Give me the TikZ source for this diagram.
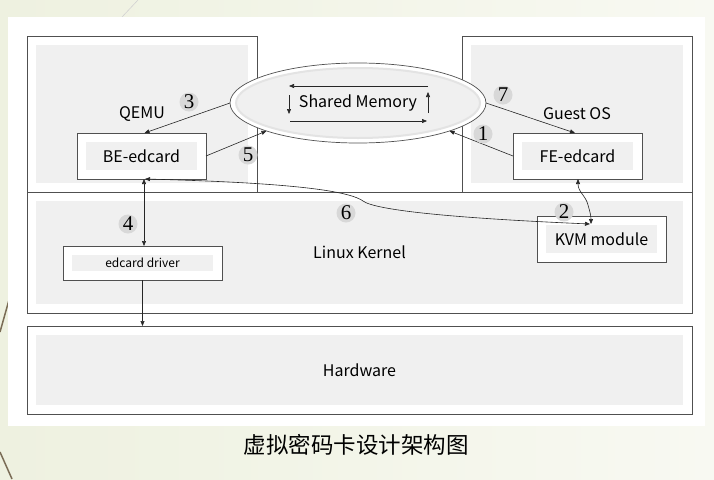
\documentclass[tikz,border=0pt]{standalone}
\usepackage{fontspec}
\setmainfont{Noto Sans CJK SC}
\newfontfamily\numfont{Liberation Serif}
\usetikzlibrary{shapes.geometric,arrows.meta}
\definecolor{bgcream}{HTML}{EEF1E0}
\definecolor{bgcream2}{HTML}{F8F9F2}
\definecolor{innergray}{HTML}{F0F0F0}
\definecolor{edgegray}{HTML}{505050}
\definecolor{numgray}{HTML}{D8D8D8}
\definecolor{decobrown}{HTML}{7A6C55}
\tikzset{
  box/.style={draw=edgegray, line width=0.8pt, fill=white, inner sep=0pt, outer sep=0pt,
    path picture={\fill[innergray] ([shift={(9pt,-9pt)}]path picture bounding box.north west)
      rectangle ([shift={(-9pt,9pt)}]path picture bounding box.south east);}},
  bigtxt/.style={font=\fontsize{16}{19}\selectfont},
  smalltxt/.style={font=\fontsize{12}{14}\selectfont},
  num/.style={circle, fill=numgray, minimum size=19pt, inner sep=0pt,
    font=\numfont\fontsize{21}{21}\selectfont},
  conn/.style={draw=black!85, line width=0.6pt, -{Triangle[length=5pt,width=4pt]}},
  dconn/.style={draw=black!85, line width=0.6pt, {Triangle[length=5pt,width=4pt]}-{Triangle[length=5pt,width=4pt]}},
}
\begin{document}
\begin{tikzpicture}[x=1pt,y=-1pt]
\useasboundingbox (0,0) rectangle (714,479);
% background
\shade[left color=bgcream, right color=bgcream2] (0,0) rectangle (714,479);
\draw[gray!35, line width=0.6pt] (138,0) -- (122,17);
\draw[decobrown, line width=1.5pt] (9,300) -- (0,332);
\draw[decobrown, line width=1.5pt] (0,452) -- (12,479);
\fill[white] (8,17) rectangle (705,426);

% layer boxes
\node[box, minimum width=665pt, minimum height=121pt, bigtxt] (kernel) at (359.5,252.5) {Linux Kernel};
\node[box, minimum width=230pt, minimum height=156pt, bigtxt] (qemu) at (142,114) {QEMU};
\node[box, minimum width=230pt, minimum height=156pt, bigtxt] (guest) at (577,114) {Guest OS};
\node[box, minimum width=665pt, minimum height=88pt, bigtxt] (hw) at (359.5,370) {Hardware};

% component boxes
\node[box, minimum width=129pt, minimum height=46pt, bigtxt] (be) at (141.5,156) {BE-edcard};
\node[box, minimum width=129pt, minimum height=46pt, bigtxt] (fe) at (577.5,156) {FE-edcard};
\node[box, minimum width=129pt, minimum height=46pt, bigtxt] (kvm) at (601.5,239) {KVM module};
\node[box, minimum width=159pt, minimum height=34pt, smalltxt] (drv) at (142.5,263) {edcard driver};

% shared memory ellipse
\node[ellipse, draw=edgegray, line width=0.7pt, fill=white, minimum width=256pt, minimum height=80pt,
  inner sep=0pt, outer sep=0pt, bigtxt,
  path picture={\filldraw[fill=innergray, draw=gray!22, line width=2pt]
    (path picture bounding box.center) ellipse (122pt and 35pt);}] (shm) at (358,103) {Shared Memory};

% arrows inside ellipse
\coordinate (m1) at (428,86);
\coordinate (m2) at (289,86);
\coordinate (m3) at (290,121);
\coordinate (m4) at (427,121);
\coordinate (m5) at (289,95);
\coordinate (m6) at (289,114);
\coordinate (m7) at (428,113);
\coordinate (m8) at (428,92);
\draw[conn] (m1) -- (m2);
\draw[conn] (m3) -- (m4);
\draw[conn] (m5) -- (m6);
\draw[conn] (m7) -- (m8);

% connectors
\draw[conn] (shm.west) -- ([xshift=3pt]be.north);
\draw[conn] (be.east) -- (shm.197);
\draw[conn] (shm.east) -- ([xshift=-2.5pt]fe.north);
\draw[conn] (fe.west) -- (shm.343);
\draw[dconn] ([xshift=2.5pt]be.south) -- ([xshift=1.5pt]drv.north);
\draw[conn] (drv.south) -- (drv.south |- hw.north);

\coordinate (k6) at (590,224);
\coordinate (k2) at (591,224);
\draw[dconn] ([xshift=3.5pt]be.south) .. controls (260,182) and (345,188) .. (363,201)
  .. controls (375,210) and (450,218) .. (k6);
\draw[dconn] ([xshift=0.5pt]fe.south) .. controls (578,192) and (586,196) .. (588,205)
  .. controls (590,212) and (591,216) .. (k2);

% numbers
\node[num] (n3) at (189,102) {3};
\node[num] (n5) at (248,155) {5};
\node[num] (n7) at (503,95) {7};
\node[num] (n1) at (483,134) {1};
\node[num] (n2) at (564,212) {2};
\node[num] (n6) at (346,213) {6};
\node[num] (n4) at (128,224) {4};

% caption
\node[font=\fontsize{22.5}{26}\selectfont] (cap) at (356,445) {虚拟密码卡设计架构图};
\end{tikzpicture}
\end{document}
